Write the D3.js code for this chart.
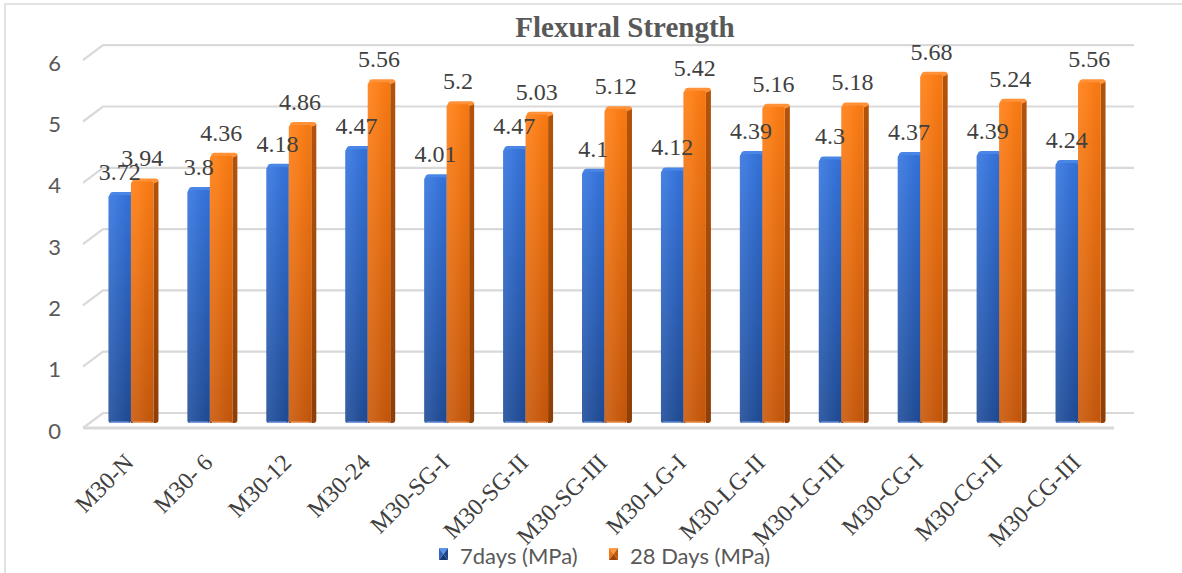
<!DOCTYPE html>
<html>
<head>
<meta charset="utf-8">
<script src="https://cdn.jsdelivr.net/npm/d3@7"></script>
<style>
  html, body { margin: 0; padding: 0; background: #fff; }
  svg { display: block; }
</style>
</head>
<body>
<svg id="chart" width="1182" height="573"></svg>
<script>
// Flexural strength of M30 mixes at 7 and 28 days
const categories = ["M30-N", "M30- 6", "M30-12", "M30-24", "M30-SG-I", "M30-SG-II", "M30-SG-III",
                    "M30-LG-I", "M30-LG-II", "M30-LG-III", "M30-CG-I", "M30-CG-II", "M30-CG-III"];
const seriesNames = ["7days (MPa)", "28 Days (MPa)"];
const days7  = [3.72, 3.8, 4.18, 4.47, 4.01, 4.47, 4.1, 4.12, 4.39, 4.3, 4.37, 4.39, 4.24];
const days28 = [3.94, 4.36, 4.86, 5.56, 5.2, 5.03, 5.12, 5.42, 5.16, 5.18, 5.68, 5.24, 5.56];
const yTicks = [0, 1, 2, 3, 4, 5, 6];
const titleText = "Flexural Strength";

const seriesValues = [days7, days28];
const palette = [
  { front0: "#3474de", front1: "#1f4c98", side0: "#204a9a", side1: "#173a78", top: "#4a86e6", mark: ["#5b93ea", "#2f64c2", "#1c458d", "#163a77"] },
  { front0: "#ff7d12", front1: "#c8580a", side0: "#b3530b", side1: "#8e3f06", top: "#ff9238", mark: ["#ff9a45", "#f07414", "#c25a0c", "#9c4507"] }
];

const svg = d3.select("#chart");
const defs = svg.append("defs");
palette.forEach((p, i) => {
  const gf = defs.append("linearGradient").attr("id", "front" + i).attr("x1", 0).attr("y1", 0).attr("x2", 0).attr("y2", 1);
  gf.append("stop").attr("offset", "0%").attr("stop-color", p.front0);
  gf.append("stop").attr("offset", "100%").attr("stop-color", p.front1);
  const gs = defs.append("linearGradient").attr("id", "side" + i).attr("x1", 0).attr("y1", 0).attr("x2", 0).attr("y2", 1);
  gs.append("stop").attr("offset", "0%").attr("stop-color", p.side0);
  gs.append("stop").attr("offset", "100%").attr("stop-color", p.side1);
  const gh = defs.append("linearGradient").attr("id", "shine" + i).attr("x1", 0).attr("y1", 0).attr("x2", 1).attr("y2", 0);
  gh.append("stop").attr("offset", "0%").attr("stop-color", "#fff").attr("stop-opacity", 0.10);
  gh.append("stop").attr("offset", "35%").attr("stop-color", "#fff").attr("stop-opacity", 0.06);
  gh.append("stop").attr("offset", "100%").attr("stop-color", "#000").attr("stop-opacity", 0.04);
});

// chart frame
svg.append("rect").attr("x", 5).attr("y", 4).attr("width", 1400).attr("height", 800)
  .attr("fill", "none").attr("stroke", "#d9d9d9").attr("stroke-width", 1.5);

// scales: bar fronts sit between the back wall and the front floor edge
const x0 = d3.scaleBand().domain(categories).range([91.5, 1117.5]).paddingInner(0.43).paddingOuter(0.215);
const x1 = d3.scaleBand().domain(seriesNames).range([0, x0.bandwidth()]);
const y = d3.scaleLinear().domain([0, 6]).range([423, 55.2]);

// depth offsets of the 3D frame
const wallDX = 20, backShift = -10, frontShift = 5;
const wallLeft = 83, wallRight = 1134;

// gridlines: slanted side wall piece plus back wall line
const grid = svg.append("g").attr("stroke", "#d9d9d9").attr("fill", "none");
yTicks.forEach(t => {
  const yf = y(t) + frontShift;
  const yb = y(t) + backShift;
  grid.append("path")
    .attr("d", `M ${wallLeft} ${yf} L ${wallLeft + wallDX} ${yb} L ${wallRight} ${yb}`)
    .attr("stroke-width", 2.2);
});
// front floor edge
svg.append("line")
  .attr("x1", wallLeft).attr("x2", wallRight - wallDX)
  .attr("y1", y(0) + frontShift).attr("y2", y(0) + frontShift)
  .attr("stroke", "#d9d9d9").attr("stroke-width", 3);

// y tick labels
svg.append("g").selectAll("text").data(yTicks).join("text")
  .attr("x", 61).attr("y", d => y(d) + frontShift + 2)
  .attr("text-anchor", "end").attr("dominant-baseline", "central")
  .attr("font-family", "Lato, 'Liberation Sans', sans-serif").attr("font-size", 22)
  .attr("fill", "#595959")
  .text(d => d);

// bars
const depthX = 5, depthY = -3;
const bars = svg.append("g");
seriesNames.forEach((s, si) => {
  const g = bars.append("g");
  categories.forEach((c, ci) => {
    const v = seriesValues[si][ci];
    const xa = x0(c) + x1(s);
    const xb = xa + x1.bandwidth();
    const yt = y(v), yb = y(0);
    // right side face
    g.append("path")
      .attr("d", `M ${xb} ${yt + 1} L ${xb + depthX} ${yt + depthY + 2} L ${xb + depthX} ${yb + depthY} Q ${xb + depthX} ${yb} ${xb + 2} ${yb} L ${xb} ${yb} Z`)
      .attr("fill", `url(#side${si})`);
    // top face
    g.append("path")
      .attr("d", `M ${xa + 1} ${yt + 1} Q ${xa + 1} ${yt + depthY} ${xa + 5} ${yt + depthY} L ${xb + depthX - 3} ${yt + depthY} Q ${xb + depthX} ${yt + depthY} ${xb + depthX} ${yt + depthY + 3} L ${xb} ${yt + 2} Z`)
      .attr("fill", palette[si].top);
    // front face
    g.append("rect")
      .attr("x", xa).attr("y", yt).attr("width", x1.bandwidth()).attr("height", yb - yt)
      .attr("rx", 2.5)
      .attr("fill", `url(#front${si})`);
    g.append("rect")
      .attr("x", xa).attr("y", yt).attr("width", x1.bandwidth()).attr("height", yb - yt)
      .attr("rx", 2.5)
      .attr("fill", `url(#shine${si})`);
    // soft lit bottom edge
    g.append("rect")
      .attr("x", xa + 2).attr("y", yb - 1.5).attr("width", x1.bandwidth() - 4).attr("height", 1.5)
      .attr("fill", si === 0 ? "#8fb2ee" : "#f5b07a").attr("opacity", 0.8);
  });
});

// value labels
const labels = svg.append("g")
  .attr("font-family", "'Liberation Serif', 'Times New Roman', serif").attr("font-size", 24)
  .attr("fill", "#404040").attr("text-anchor", "middle");
seriesNames.forEach((s, si) => {
  categories.forEach((c, ci) => {
    const v = seriesValues[si][ci];
    labels.append("text")
      .attr("x", x0(c) + x1(s) + x1.bandwidth() / 2)
      .attr("y", y(v) - 15)
      .text(v);
  });
});

// category labels
svg.append("g").selectAll("text").data(categories).join("text")
  .attr("transform", d => `translate(${x0(d) + x0.bandwidth() / 2 + 4},464) rotate(-45)`)
  .attr("text-anchor", "end")
  .attr("font-family", "'Liberation Serif', 'Times New Roman', serif").attr("font-size", 24)
  .attr("fill", "#404040")
  .text(d => d);

// title
svg.append("text")
  .attr("x", 625).attr("y", 37).attr("text-anchor", "middle")
  .attr("font-family", "'Liberation Serif', 'Times New Roman', serif").attr("font-size", 29)
  .attr("font-weight", "bold").attr("fill", "#595959")
  .text(titleText);

// legend
const legendPos = [439, 609];
const legend = svg.append("g");
seriesNames.forEach((s, si) => {
  const lx = legendPos[si], ly = 548, w = 9, h = 12;
  const cx = lx + w / 2, cy = ly + h / 2;
  const m = palette[si].mark;
  const item = legend.append("g");
  item.append("path").attr("d", `M ${lx} ${ly} L ${lx + w} ${ly} L ${cx} ${cy} Z`).attr("fill", m[0]);
  item.append("path").attr("d", `M ${lx} ${ly} L ${cx} ${cy} L ${lx} ${ly + h} Z`).attr("fill", m[1]);
  item.append("path").attr("d", `M ${lx + w} ${ly} L ${lx + w} ${ly + h} L ${cx} ${cy} Z`).attr("fill", m[2]);
  item.append("path").attr("d", `M ${lx} ${ly + h} L ${cx} ${cy} L ${lx + w} ${ly + h} Z`).attr("fill", m[3]);
  item.append("text")
    .attr("x", lx + 21).attr("y", 564)
    .attr("font-family", "Lato, 'Liberation Sans', sans-serif").attr("font-size", 22)
    .attr("fill", "#595959")
    .text(s);
});
</script>
</body>
</html>
